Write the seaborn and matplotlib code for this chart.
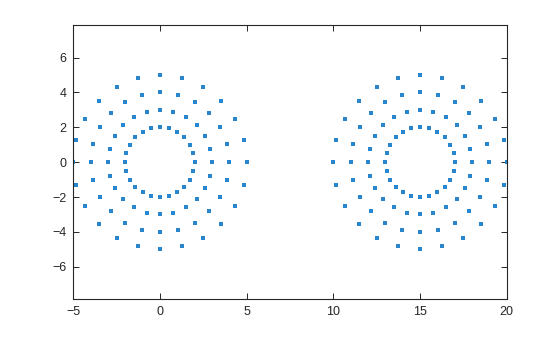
import numpy as np
import pandas as pd
import matplotlib
matplotlib.use("Agg")
import matplotlib.pyplot as plt
import seaborn as sns

# Data: two groups of concentric rings of points
centers_x = [0, 15]
centers_y = [0, 0]
radii = [2, 3, 4, 5]
angles_deg = [0, 15, 30, 45, 60, 75, 90, 105, 120, 135, 150, 165,
              180, 195, 210, 225, 240, 255, 270, 285, 300, 315, 330, 345]

xticks = [-5, 0, 5, 10, 15, 20]
yticks = [-6, -4, -2, 0, 2, 4, 6]

rows = []
for cx, cy in zip(centers_x, centers_y):
    for r in radii:
        for a in angles_deg:
            t = np.deg2rad(a)
            rows.append({"x": cx + r * np.cos(t), "y": cy + r * np.sin(t)})
df = pd.DataFrame(rows)

sns.set_style("white")
plt.rcParams['font.family'] = ['Liberation Sans', 'DejaVu Sans']

fig = plt.figure(figsize=(5.6, 3.37), dpi=100)
ax = fig.add_axes([73.3 / 560, 1 - 299 / 337, (506.7 - 73.3) / 560, (299 - 25.3) / 337])

sns.scatterplot(data=df, x="x", y="y", ax=ax, color="#2a86cc", marker="s",
                s=5, linewidth=0, legend=False)

ax.set_xlim(-5, 20)
ax.set_ylim(-7.85, 7.85)
ax.set_xticks(xticks)
ax.set_yticks(yticks)
ax.set_xlabel("")
ax.set_ylabel("")

for sp in ax.spines.values():
    sp.set_visible(True)
    sp.set_color("#262626")
    sp.set_linewidth(0.8)
ax.tick_params(direction="in", length=4, width=0.7, color="#262626",
               labelcolor="#262626", labelsize=9,
               top=True, right=True, bottom=True, left=True)
ax.tick_params(axis="x", pad=5)
ax.tick_params(axis="y", pad=5)

fig.savefig("out.png", dpi=100)
